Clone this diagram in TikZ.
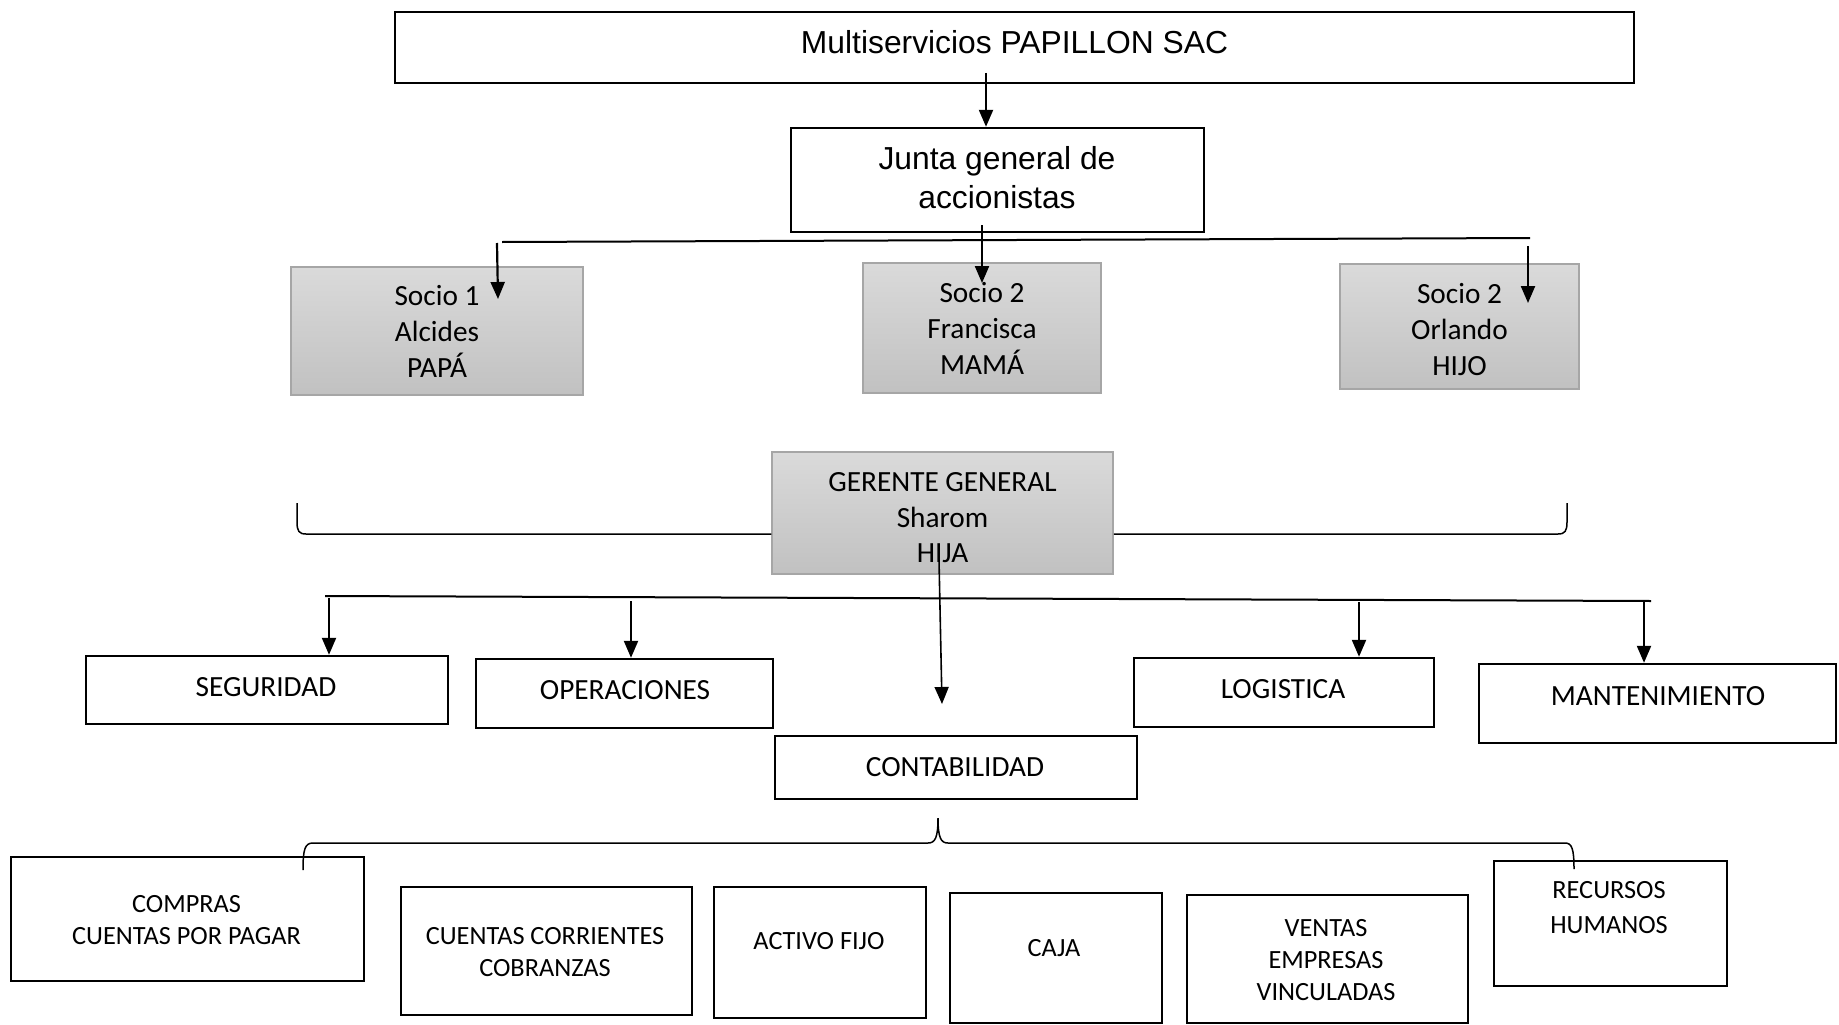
\documentclass[tikz,border=0pt]{standalone}
\usepackage{fontspec}
\setmainfont{Carlito}
\newfontfamily\arialf{Liberation Sans}
\usetikzlibrary{arrows.meta}
\definecolor{gborder}{RGB}{166,166,166}
\definecolor{gtop}{RGB}{218,218,218}
\definecolor{gbot}{RGB}{193,193,193}
\tikzset{
  blackbox/.style={draw=black, line width=2.4pt, fill=white, inner sep=0pt},
  graybox/.style={draw=gborder, line width=1.5pt, top color=gtop, bottom color=gbot, inner sep=0pt},
  arialtxt/.style={anchor=base, inner sep=0pt, yshift=-1.5pt, font=\arialf\fontsize{31.8}{39}\selectfont},
  caltxt/.style={anchor=base, inner sep=0pt, yshift=-1.5pt, font=\fontsize{29.3}{36}\selectfont},
  smalltxt/.style={anchor=base, inner sep=0pt, yshift=-1.5pt, font=\fontsize{26.3}{32}\selectfont},
  arr/.style={line width=2.2pt, -{Triangle[length=17pt,width=14pt]}},
  conn/.style={line width=2pt},
  bracel/.style={line width=1.5pt}
}
\begin{document}
\begin{tikzpicture}[x=1pt,y=-1pt]
\useasboundingbox (0,0) rectangle (1839,1025);
% boxes
\node[blackbox, minimum width=1239pt, minimum height=71pt] (top) at (1014.5,47.5) {};
\node[blackbox, minimum width=413pt, minimum height=104pt] (junta) at (997.5,180) {};
\node[graybox, minimum width=292pt, minimum height=128pt] (s1) at (437,331) {};
\node[graybox, minimum width=238pt, minimum height=130pt] (s2) at (982,328) {};
\node[graybox, minimum width=239pt, minimum height=125pt] (s3) at (1459.5,326.5) {};
\node[graybox, minimum width=341pt, minimum height=122pt] (ger) at (942.5,513) {};
\node[blackbox, minimum width=362pt, minimum height=68pt] (seg) at (267,690) {};
\node[blackbox, minimum width=297pt, minimum height=69pt] (ope) at (624.5,693.5) {};
\node[blackbox, minimum width=300pt, minimum height=69pt] (log) at (1284,692.5) {};
\node[blackbox, minimum width=357pt, minimum height=79pt] (mant) at (1657.5,703.5) {};
\node[blackbox, minimum width=362pt, minimum height=63pt] (cont) at (956,767.5) {};
\node[blackbox, minimum width=353pt, minimum height=124pt] (comp) at (187.5,919) {};
\node[blackbox, minimum width=291pt, minimum height=128pt] (cc) at (546.5,951) {};
\node[blackbox, minimum width=212pt, minimum height=131pt] (af) at (820,952.5) {};
\node[blackbox, minimum width=212pt, minimum height=130pt] (caja) at (1056,958) {};
\node[blackbox, minimum width=281pt, minimum height=128pt] (ven) at (1327.5,959) {};
\node[blackbox, minimum width=233pt, minimum height=125pt] (rh) at (1610.5,923.5) {};
% texts
\node[arialtxt] (ttop) at (1014.5,52) {Multiservicios PAPILLON SAC};
\node[arialtxt] (tj1) at (997,168.3) {Junta general de};
\node[arialtxt] (tj2) at (997,207.3) {accionistas};
\node[caltxt] (ts1a) at (437,304) {Socio 1};
\node[caltxt] (ts1b) at (437,340) {Alcides};
\node[caltxt] (ts1c) at (437,376) {PAPÁ};
\node[caltxt] (ts2a) at (982,301) {Socio 2};
\node[caltxt] (ts2b) at (982,337) {Francisca};
\node[caltxt] (ts2c) at (982,373) {MAMÁ};
\node[caltxt] (ts3a) at (1459.5,301.5) {Socio 2};
\node[caltxt] (ts3b) at (1459.5,337.5) {Orlando};
\node[caltxt] (ts3c) at (1459.5,373.5) {HIJO};
\node[caltxt] (tga) at (942.5,490) {GERENTE GENERAL};
\node[caltxt] (tgb) at (942.5,526) {Sharom};
\node[caltxt] (tgc) at (942.5,561) {HIJA};
\node[caltxt] (tseg) at (266,695) {SEGURIDAD};
\node[caltxt] (tope) at (625,698) {OPERACIONES};
\node[caltxt] (tlog) at (1283,697) {LOGISTICA};
\node[caltxt] (tmant) at (1658,704) {MANTENIMIENTO};
\node[caltxt] (tcont) at (955,775) {CONTABILIDAD};
\node[smalltxt] (tca) at (186.5,911) {COMPRAS};
\node[smalltxt] (tcb) at (186.5,943) {CUENTAS POR PAGAR};
\node[smalltxt] (tcca) at (545,943) {CUENTAS CORRIENTES};
\node[smalltxt] (tccb) at (545,975) {COBRANZAS};
\node[smalltxt] (taf) at (819,948) {ACTIVO FIJO};
\node[smalltxt] (tcaja) at (1054,955) {CAJA};
\node[smalltxt] (tva) at (1326,935) {VENTAS};
\node[smalltxt] (tvb) at (1326,967) {EMPRESAS};
\node[smalltxt] (tvc) at (1326,999) {VINCULADAS};
\node[smalltxt] (trha) at (1609,897) {RECURSOS};
\node[smalltxt] (trhb) at (1609,932) {HUMANOS};
% connector coordinates
\coordinate (a0) at (986,73);
\coordinate (h1l) at (502,242);
\coordinate (h1r) at (1530,238);
\coordinate (a1s) at (497,243);
\coordinate (a1e) at (498,299);
\coordinate (a2s) at (982,225);
\coordinate (a2e) at (982,283);
\coordinate (a3s) at (1528,246);
\coordinate (a3e) at (1528,303);
\coordinate (gs) at (939,560);
\coordinate (ge) at (942,704);
\coordinate (h2l) at (325,596);
\coordinate (h2r) at (1651,601);
\coordinate (b1s) at (329,598);
\coordinate (b2s) at (631,601);
\coordinate (b3s) at (1359,602);
\coordinate (b4s) at (1644,602);
\coordinate (bl) at (297,503);
\coordinate (br) at (1567,503);
\coordinate (cl) at (303,870);
\coordinate (cm) at (938,818);
\coordinate (cr) at (1574,869);
% connectors
\draw[arr] (a0) -- (a0 |- junta.north);
\draw[conn] (h1l) -- (h1r);
\draw[arr] (a1s) -- (a1e);
\draw[arr] (a2s) -- (a2e);
\draw[arr] (a3s) -- (a3e);
\draw[conn] (h2l) -- (h2r);
\draw[line width=1.6pt, -{Triangle[length=17pt,width=14pt]}] (gs) -- (ge);
\draw[arr] (b1s) -- (b1s |- seg.north);
\draw[arr] (b2s) -- (b2s |- ope.north);
\draw[arr] (b3s) -- (b3s |- log.north);
\draw[arr] (b4s) -- (b4s |- mant.north);
% braces
\draw[bracel] (bl) -- (297,522) .. controls (297,531) and (299,534) .. (306,534) -- (ger.west |- 0,534);
\draw[bracel] (ger.east |- 0,534) -- (1558,534) .. controls (1565,534) and (1567,531) .. (1567,522) -- (br);
\draw[bracel] (cl) .. controls (303,849) and (305,843) .. (313,843) -- (928,843) .. controls (935,843) and (938,838) .. (cm);
\draw[bracel] (cm) .. controls (938,838) and (941,843) .. (948,843) -- (1565,843) .. controls (1572,843) and (1574,849) .. (cr);
\end{tikzpicture}
\end{document}
